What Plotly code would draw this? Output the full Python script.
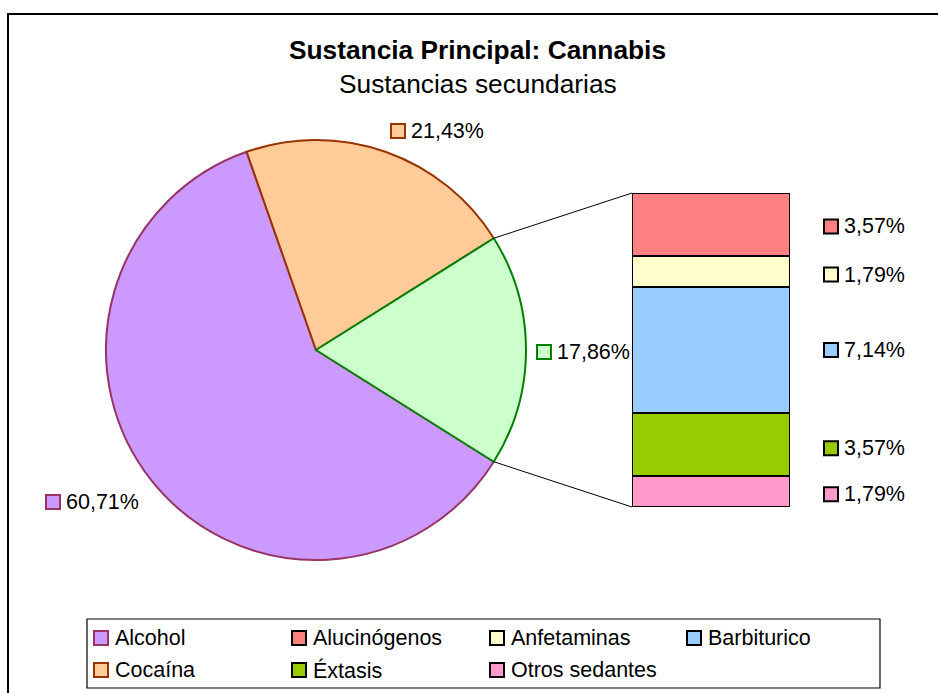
import math
import plotly.graph_objects as go

# ---------------- data ----------------
title_main = "Sustancia Principal: Cannabis"
title_sub = "Sustancias secundarias"

pie_labels = ["Alcohol", "Cocaína", "Otras"]
pie_values = [60.71, 21.43, 17.86]
pie_colors = ["#CC99FF", "#FFCC99", "#CCFFCC"]
pie_lines = ["#993366", "#993300", "#008000"]
pie_label_text = ["60,71%", "21,43%", "17,86%"]

bar_labels = ["Alucinógenos", "Anfetaminas", "Barbiturico", "Éxtasis", "Otros sedantes"]
bar_values = [3.57, 1.79, 7.14, 3.57, 1.79]
bar_colors = ["#FF8080", "#FFFFCC", "#99CCFF", "#99CC00", "#FF99CC"]
bar_label_text = ["3,57%", "1,79%", "7,14%", "3,57%", "1,79%"]

legend_order = ["Alcohol", "Alucinógenos", "Anfetaminas", "Barbiturico",
                "Cocaína", "Éxtasis", "Otros sedantes"]

# ---------------- layout helpers ----------------
W, H = 938, 693
FONT = "Arial, Liberation Sans, sans-serif"


def px(x):
    return x / W


def py(y):
    return 1 - y / H


# pie geometry (pixels)
cx, cy, R = 316, 350, 210
# bar geometry (pixels)
bx0, bx1, by0, by1 = 632, 790, 193, 507

fig = go.Figure()

other_share = pie_values[2] / sum(pie_values)
half_angle = 180 * other_share  # degrees

# clockwise from the lower edge of the "other" slice: Alcohol, Cocaína, Otras
fig.add_trace(go.Pie(
    labels=pie_labels, values=pie_values, sort=False,
    direction="clockwise", rotation=90 + half_angle,
    textinfo="none", hoverinfo="label+percent", showlegend=False,
    marker=dict(colors=pie_colors, line=dict(color=pie_lines, width=2)),
    domain=dict(x=[px(cx - R), px(cx + R)], y=[py(cy + R), py(cy - R)]),
))

total_other = sum(bar_values)
for lab, val, col in reversed(list(zip(bar_labels, bar_values, bar_colors))):
    fig.add_trace(go.Bar(
        x=[0], y=[val], name=lab, width=1,
        marker=dict(color=col, line=dict(color="black", width=2.5)),
        xaxis="x", yaxis="y", showlegend=False,
    ))

shapes = []
annotations = []

# outer chart border
shapes.append(dict(type="rect", xref="paper", yref="paper",
                   x0=px(8), x1=px(960), y0=py(720), y1=py(14),
                   line=dict(color="black", width=2)))

# connector lines from pie "other" slice edges to bar corners
a = math.radians(half_angle)
p_top = (cx + R * math.cos(a), cy - R * math.sin(a))
p_bot = (cx + R * math.cos(a), cy + R * math.sin(a))
shapes.append(dict(type="line", xref="paper", yref="paper",
                   x0=px(p_top[0]), y0=py(p_top[1]), x1=px(bx0), y1=py(by0),
                   line=dict(color="black", width=1)))
shapes.append(dict(type="line", xref="paper", yref="paper",
                   x0=px(p_bot[0]), y0=py(p_bot[1]), x1=px(bx0), y1=py(by1),
                   line=dict(color="black", width=1)))


def key(x, y, fill, line, size=14):
    shapes.append(dict(type="rect", xref="paper", yref="paper",
                       x0=px(x - size / 2), x1=px(x + size / 2),
                       y0=py(y + size / 2), y1=py(y - size / 2),
                       fillcolor=fill, line=dict(color=line, width=2)))


def text(x, y, s, size=21.5, anchor="left", bold=False):
    annotations.append(dict(xref="paper", yref="paper", x=px(x), y=py(y),
                            text=f"<b>{s}</b>" if bold else s, showarrow=False,
                            xanchor=anchor, yanchor="middle",
                            font=dict(family=FONT, size=size, color="black")))


# titles
text(478, 50, title_main, size=26.3, anchor="center", bold=True)
text(478, 84, title_sub, size=26.3, anchor="center")

# pie labels
pie_label_pos = [(53, 502), (398, 131), (544, 352)]
for (x, y), t, f, l in zip(pie_label_pos, pie_label_text, pie_colors, pie_lines):
    key(x, y, f, l)
    text(x + 11, y, t)

# bar labels (vertical position from stacked data)
cum = 0
bar_label_offsets = [2, 3, 0, 4, 3]
for v, t, f, off in zip(bar_values, bar_label_text, bar_colors, bar_label_offsets):
    mid = cum + v / 2
    cum += v
    y = by0 + (mid / total_other) * (by1 - by0) + off
    key(831, y, f, "black")
    text(842, y, t)

# manual legend
shapes.append(dict(type="rect", xref="paper", yref="paper",
                   x0=px(87), x1=px(880), y0=py(688), y1=py(619),
                   line=dict(color="black", width=1.2), fillcolor="white",
                   layer="below"))
fill_of = dict(zip(pie_labels + bar_labels, pie_colors + bar_colors))
line_of = dict(zip(pie_labels + bar_labels, pie_lines + ["black"] * len(bar_labels)))
col_x = [101, 299, 497, 694]
row_y = [638, 670]
for i, name in enumerate(legend_order):
    r, c = divmod(i, 4)
    key(col_x[c], row_y[r], fill_of[name], line_of[name])
    text(col_x[c] + 12, row_y[r], name)

fig.update_layout(
    width=W, height=H, margin=dict(l=0, r=0, t=0, b=0),
    paper_bgcolor="white", plot_bgcolor="rgba(0,0,0,0)",
    barmode="stack", bargap=0,
    xaxis=dict(domain=[px(bx0), px(bx1)], range=[-0.5, 0.5], visible=False,
               fixedrange=True),
    yaxis=dict(domain=[py(by1), py(by0)], range=[0, total_other], visible=False,
               fixedrange=True),
    shapes=shapes, annotations=annotations, showlegend=False,
    font=dict(family=FONT),
)

fig.write_html("out.html")
